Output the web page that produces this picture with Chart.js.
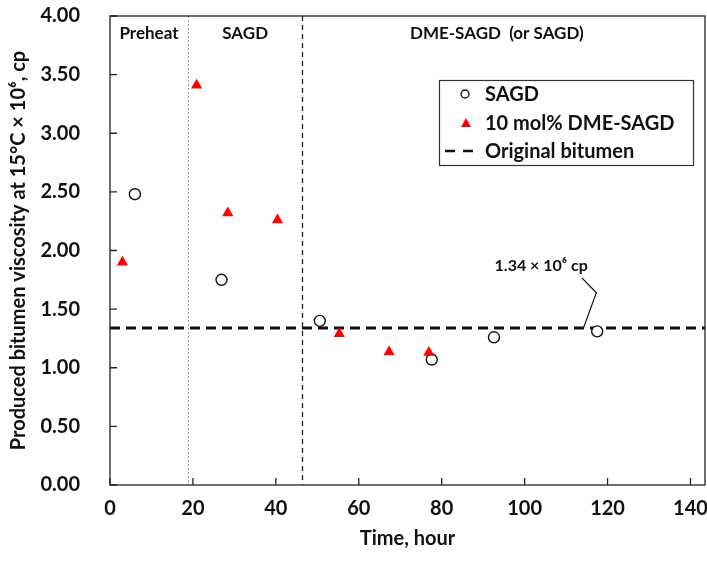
<!DOCTYPE html>
<html>
<head>
<meta charset="utf-8">
<script src="https://cdn.jsdelivr.net/npm/chart.js@4/dist/chart.umd.min.js"></script>
<style>
  html, body { margin: 0; padding: 0; background: #fff; overflow: hidden; }
  #wrap { width: 707px; height: 561px; position: relative; }
  canvas { display: block; }
</style>
</head>
<body>
<div id="wrap"><canvas id="c" width="707" height="561"></canvas></div>
<script>
// ---- Data ----
const sagdTime = [6.0, 26.9, 50.6, 77.6, 92.6, 117.5];
const sagdVisc = [2.48, 1.75, 1.40, 1.07, 1.26, 1.31];
const dmeTime  = [3.0, 20.9, 28.4, 40.4, 55.3, 67.3, 76.9];
const dmeVisc  = [1.90, 3.41, 2.32, 2.26, 1.29, 1.135, 1.13];
const originalViscosity = 1.34;
const phaseBoundaries = [18.8, 46.3];           // hours
const phaseLabels = ['Preheat', 'SAGD', 'DME-SAGD  (or SAGD)'];
const phaseLabelX = [9.4, 32.6, 93.3];          // hours
const phaseLabelY = 3.85;
const seriesNames = ['SAGD', '10 mol% DME-SAGD', 'Original bitumen'];
const xTicks = [0, 20, 40, 60, 80, 100, 120, 140];
const yTicks = [0, 0.5, 1, 1.5, 2, 2.5, 3, 3.5, 4];
const X_MIN = 0, X_MAX = 143.5, Y_MIN = 0, Y_MAX = 4;
const annotationText = '1.34 × 10⁶ cp';
const annotationAt = [104, 1.865];
const leaderPts = [[114.2, originalViscosity], [117.3, 1.64], [113.8, 1.766]];

const FONT = 'Lato, "Liberation Sans", sans-serif';
const PLOT_RIGHT = 705;

const toXY = (xs, ys) => xs.map((x, i) => ({ x, y: ys[i] }));

const overlay = {
  id: 'overlay',
  afterLayout(chart) {
    // pin the plot frame's right edge to where the reference has it
    const a = chart.chartArea, x = chart.scales.x;
    a.right = PLOT_RIGHT; a.width = a.right - a.left;
    x.right = PLOT_RIGHT; x.width = x.right - x.left;
    x.configure();
  },
  beforeDatasetsDraw(chart) {
    const { ctx, chartArea: a, scales: { x, y } } = chart;
    ctx.save();
    // phase boundary lines
    ctx.beginPath();
    ctx.strokeStyle = '#9a9a9a';
    ctx.lineWidth = 1;
    ctx.setLineDash([2, 2]);
    const px0 = Math.round(x.getPixelForValue(phaseBoundaries[0])) + 0.5;
    ctx.moveTo(px0, a.top); ctx.lineTo(px0, a.bottom);
    ctx.stroke();
    ctx.beginPath();
    ctx.strokeStyle = '#222';
    ctx.lineWidth = 1.3;
    ctx.setLineDash([5, 4]);
    const px1 = Math.round(x.getPixelForValue(phaseBoundaries[1])) + 0.5;
    ctx.moveTo(px1, a.top); ctx.lineTo(px1, a.bottom);
    ctx.stroke();
    ctx.setLineDash([]);
    // phase labels
    ctx.fillStyle = '#111';
    ctx.font = 'bold 17px ' + FONT;
    ctx.textAlign = 'center';
    ctx.textBaseline = 'middle';
    phaseLabels.forEach((t, i) => {
      ctx.fillText(t, x.getPixelForValue(phaseLabelX[i]), y.getPixelForValue(phaseLabelY));
    });
    // annotation
    ctx.font = 'bold 16px ' + FONT;
    ctx.fillText(annotationText, x.getPixelForValue(annotationAt[0]), y.getPixelForValue(annotationAt[1]));
    ctx.beginPath();
    ctx.strokeStyle = '#111';
    ctx.lineWidth = 1.2;
    leaderPts.forEach((p, i) => {
      const px = x.getPixelForValue(p[0]), py = y.getPixelForValue(p[1]);
      if (i === 0) ctx.moveTo(px, py); else ctx.lineTo(px, py);
    });
    ctx.stroke();
    ctx.restore();
  },
  afterDraw(chart) {
    const { ctx, chartArea: a, scales: { x, y } } = chart;
    ctx.save();
    // frame
    ctx.strokeStyle = '#222';
    ctx.lineWidth = 1.3;
    ctx.strokeRect(a.left, a.top, a.right - a.left, a.bottom - a.top);
    // inward ticks
    ctx.beginPath();
    x.ticks.forEach(t => {
      const px = x.getPixelForValue(t.value);
      ctx.moveTo(px, a.bottom); ctx.lineTo(px, a.bottom - 7);
    });
    y.ticks.forEach(t => {
      const py = y.getPixelForValue(t.value);
      ctx.moveTo(a.left, py); ctx.lineTo(a.left + 7, py);
    });
    ctx.stroke();
    // legend
    const lx = 439.5, ly = 80.5, lw = 254, lh = 85;
    ctx.fillStyle = '#fff';
    ctx.fillRect(lx, ly, lw, lh);
    ctx.strokeStyle = '#333';
    ctx.lineWidth = 1.2;
    ctx.strokeRect(lx, ly, lw, lh);
    const rows = [94, 123, 151];
    ctx.font = 'bold 20px ' + FONT;
    ctx.textAlign = 'left';
    ctx.textBaseline = 'middle';
    ctx.fillStyle = '#111';
    seriesNames.forEach((n, i) => ctx.fillText(n, 485, rows[i] + 1));
    // circle
    ctx.beginPath();
    ctx.arc(465, rows[0], 4, 0, Math.PI * 2);
    ctx.strokeStyle = '#111';
    ctx.lineWidth = 1.3;
    ctx.stroke();
    // triangle
    ctx.beginPath();
    ctx.moveTo(466, rows[1] - 5);
    ctx.lineTo(471, rows[1] + 4);
    ctx.lineTo(461, rows[1] + 4);
    ctx.closePath();
    ctx.fillStyle = '#ff0000';
    ctx.fill();
    // dashes
    ctx.beginPath();
    ctx.strokeStyle = '#111';
    ctx.lineWidth = 2.5;
    ctx.moveTo(445, rows[2]); ctx.lineTo(455, rows[2]);
    ctx.moveTo(463, rows[2]); ctx.lineTo(473, rows[2]);
    ctx.stroke();
    ctx.restore();
  }
};

new Chart(document.getElementById('c'), {
  type: 'scatter',
  data: {
    datasets: [
      {
        label: seriesNames[1],
        data: toXY(dmeTime, dmeVisc),
        pointStyle: 'triangle',
        pointRadius: 6.5,
        backgroundColor: '#ff0000',
        borderColor: '#ff0000',
        borderWidth: 0
      },
      {
        label: seriesNames[0],
        data: toXY(sagdTime, sagdVisc),
        pointStyle: 'circle',
        pointRadius: 5.5,
        backgroundColor: '#ffffff',
        borderColor: '#111',
        borderWidth: 1.4
      },
      {
        label: seriesNames[2],
        type: 'line',
        data: [{ x: X_MIN, y: originalViscosity }, { x: X_MAX, y: originalViscosity }],
        borderColor: '#111',
        borderWidth: 3,
        borderDash: [10, 6],
        pointRadius: 0,
        fill: false
      }
    ]
  },
  options: {
    responsive: false,
    animation: false,
    devicePixelRatio: 1,
    layout: { padding: { left: 0, top: 16, right: 2, bottom: 0 } },
    plugins: { legend: { display: false }, tooltip: { enabled: false } },
    scales: {
      x: {
        type: 'linear',
        min: X_MIN, max: X_MAX,
        afterFit(s) { s.height = 76; s.paddingLeft = 0; s.paddingRight = 0; },
        afterBuildTicks(s) { s.ticks = xTicks.map(v => ({ value: v })); },
        grid: { display: false },
        border: { display: false },
        ticks: {
          color: '#111',
          font: { family: FONT, size: 20, weight: 'bold' },
          padding: 4,
          maxRotation: 0
        },
        title: {
          display: true,
          text: 'Time, hour',
          color: '#111',
          font: { family: FONT, size: 20, weight: 'bold' },
          padding: { top: 0, bottom: 10 }
        }
      },
      y: {
        type: 'linear',
        min: Y_MIN, max: Y_MAX,
        afterFit(s) { s.width = 110; s.paddingTop = 0; s.paddingBottom = 0; },
        afterBuildTicks(s) { s.ticks = yTicks.map(v => ({ value: v })); },
        grid: { display: false },
        border: { display: false },
        ticks: {
          color: '#111',
          font: { family: FONT, size: 20, weight: 'bold' },
          padding: 22,
          callback: v => Number(v).toFixed(2)
        },
        title: {
          display: true,
          text: 'Produced bitumen viscosity at 15°C × 10⁶, cp',
          color: '#111',
          font: { family: FONT, size: 20, weight: 'bold' },
          padding: { top: 7, bottom: 0 }
        }
      }
    }
  },
  plugins: [overlay]
});
</script>
</body>
</html>
